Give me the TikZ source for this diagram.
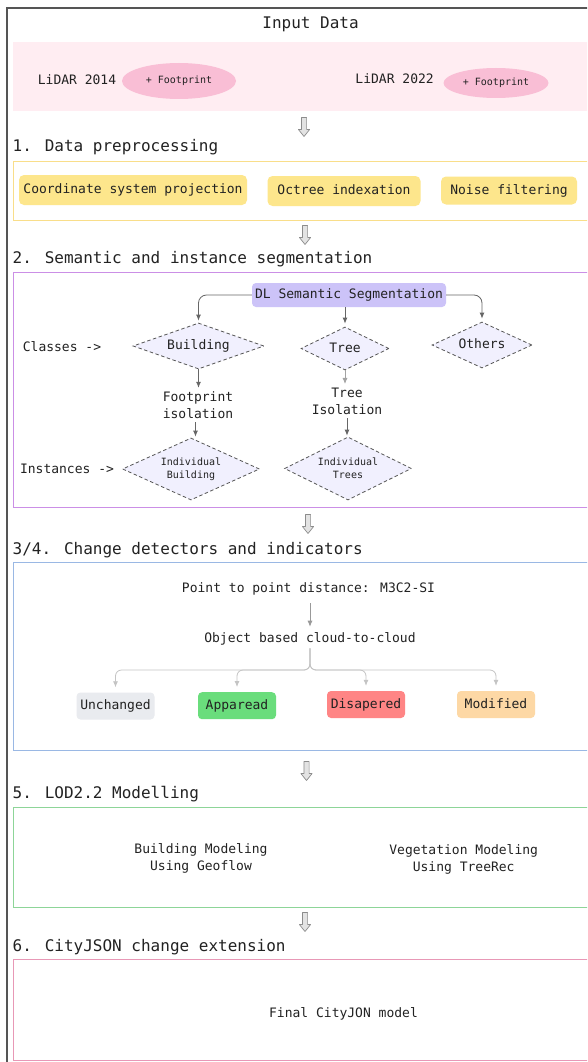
\documentclass[tikz,border=0pt]{standalone}
\usepackage{fontspec}
\setmainfont{DejaVu Sans Mono}
\usetikzlibrary{shapes.geometric,arrows.meta}

\definecolor{frameGray}{HTML}{555555}
\definecolor{inkText}{HTML}{222222}
\definecolor{bandPink}{HTML}{FFEDF2}
\definecolor{blobPink}{HTML}{F9BED5}
\definecolor{prepYellow}{HTML}{FDE68C}
\definecolor{prepLine}{HTML}{F9DE8A}
\definecolor{segLine}{HTML}{CB8FE6}
\definecolor{dlFill}{HTML}{CCC3F8}
\definecolor{diaFill}{HTML}{F1F0FE}
\definecolor{chgLine}{HTML}{9AB8E4}
\definecolor{unchFill}{HTML}{E9EBEF}
\definecolor{appFill}{HTML}{6ADD7C}
\definecolor{disFill}{HTML}{FF8585}
\definecolor{modFill}{HTML}{FDD8A5}
\definecolor{lodLine}{HTML}{8DD598}
\definecolor{cjLine}{HTML}{E898B6}
\definecolor{segArrow}{HTML}{666666}
\definecolor{branchLine}{HTML}{C4C4C4}

\tikzset{
  body/.style={font=\fontsize{13}{17}\selectfont, text=inkText},
  small/.style={font=\fontsize{10}{13}\selectfont, text=inkText},
  hdr/.style={font=\fontsize{16}{20}\selectfont, text=inkText, inner sep=0pt},
  oneline/.style={text height=9.5pt, text depth=2pt},
  secframe/.style={line width=1.3pt},
  prepbox/.style={body, oneline, fill=prepYellow, rounded corners=5pt, inner sep=0pt, minimum height=30pt},
  blob/.style={small, ellipse, fill=blobPink, inner sep=0pt},
  dlbox/.style={body, oneline, fill=dlFill, rounded corners=4pt, inner sep=0pt, minimum width=194pt, minimum height=24pt},
  dia/.style={diamond, draw=frameGray, dashed, dash pattern=on 3.5pt off 2.5pt, line width=0.8pt, fill=diaFill, inner sep=0pt},
  segarr/.style={draw=segArrow, line width=0.8pt, -{Latex[length=6pt,width=5pt]}, rounded corners=8pt},
  brarr/.style={draw=branchLine, line width=0.8pt, -{Latex[length=6pt,width=5pt]}, rounded corners=6pt},
  chgbox/.style={body, oneline, rounded corners=4pt, inner sep=0pt, minimum width=78pt, minimum height=27pt},
  % hollow block arrow pointing down, used between the stages
  hollowdown/.pic={
    \draw[draw=gray!90, fill=gray!22, line width=0.7pt, line join=round]
      (-2.6,-9.5) -- (2.6,-9.5) -- (2.6,2.5) -- (5.6,2.5) -- (0,9.5)
      -- (-5.6,2.5) -- (-2.6,2.5) -- cycle;
  },
}

\begin{document}
\begin{tikzpicture}[x=1pt,y=-1pt]
\clip (0,0) rectangle (587,1062);
\fill[white] (0,0) rectangle (587,1062);

% outer frame
\draw[frameGray, line width=1.8pt] (7,8) rectangle (640,1120);

% ---------- Input data ----------
\node[hdr, anchor=base] (title) at (310.6,29) {Input Data};
\fill[bandPink] (13,42) rectangle (640,111);
\node[body, oneline] (l14) at (77,81) {LiDAR 2014};
\node[blob, minimum width=114pt, minimum height=36pt] (fp1) at (179,81) {+ Footprint};
\node[body, oneline] (l22) at (394.6,80) {LiDAR 2022};
\node[blob, minimum width=105pt, minimum height=30pt] (fp2) at (496,83) {+ Footprint};

\coordinate (a1) at (304,127);
\pic at (a1) {hollowdown};

% ---------- 1. Data preprocessing ----------
\node[hdr, anchor=base west] (h1) at (12.5,151) {1. Data preprocessing};
\draw[prepLine, secframe] (13.5,161.5) rectangle (640,220.5);
\node[prepbox, minimum width=228pt] (b1) at (133,190) {Coordinate system projection};
\node[prepbox, minimum width=153pt] (b2) at (344,191) {Octree indexation};
\node[prepbox, minimum width=136pt, minimum height=28pt] (b3) at (509,190.5) {Noise filtering};

\coordinate (a2) at (305,235);
\pic at (a2) {hollowdown};

% ---------- 2. Semantic and instance segmentation ----------
\node[hdr, anchor=base west] (h2) at (12.5,263) {2. Semantic and instance segmentation};
\draw[segLine, secframe] (13.5,272.5) rectangle (640,507.5);

\node[dlbox] (dl) at (349,295) {DL Semantic Segmentation};

\node[body, oneline] (cls) at (62,348) {Classes ->};
\node[body, oneline] (ins) at (67,470) {Instances ->};

\node[dia, minimum width=131pt, minimum height=46pt] (bld) at (198.5,346) {};
\node[body, oneline] at (bld) {Building};
\node[dia, minimum width=88pt, minimum height=43pt] (tree) at (345,348.5) {};
\node[body, oneline] at (tree) {Tree};
\node[dia, minimum width=100pt, minimum height=46pt] (oth) at (482,345) {};
\node[body, oneline] at (oth) {Others};

\node[body, align=center, inner sep=1pt] (fpi) at (198,405.5) {Footprint\\isolation};
\node[body, align=center, inner sep=1pt] (tri) at (347,401.5) {Tree\\Isolation};

\node[dia, minimum width=137pt, minimum height=62pt] (ib) at (191,469) {};
\node[small, align=center] at (ib) {Individual\\Building};
\node[dia, minimum width=127pt, minimum height=63pt] (it) at (348,468.5) {};
\node[small, align=center] at (it) {Individual\\Trees};

\draw[segarr, shorten >=2pt] (dl.west) -| (bld.north);
\draw[segarr, shorten >=3pt] (dl.south -| tree.north) -- (tree.north);
\draw[segarr, shorten >=3pt] (dl.east) -| (oth.north);
\draw[segarr, shorten >=3pt] (bld.south) -- (bld.south |- fpi.north);
\draw[segarr, draw=segArrow!60, shorten >=3pt] (tree.south) -- (tree.south |- tri.north);
\draw[segarr, shorten <=2pt, shorten >=1pt] (fpi.south -| 195.5,0) -- (ib.north -| 195.5,0);
\draw[segarr, shorten <=2pt, shorten >=1pt] (tri.south) -- (tri.south |- it.north);

\coordinate (a3) at (308,524);
\pic at (a3) {hollowdown};

% ---------- 3/4. Change detectors and indicators ----------
\node[hdr, anchor=base west] (h3) at (12.5,554) {3/4. Change detectors and indicators};
\draw[chgLine, secframe] (13.5,562.5) rectangle (640,750.5);

\node[body, oneline] (p2p) at (308.5,589) {Point to point distance: M3C2-SI};
\node[body, oneline] (obj) at (310,639) {Object based cloud-to-cloud};
\draw[segarr, draw=gray!80, shorten <=5pt, shorten >=3pt] (p2p.south -| obj.north) -- (obj.north);

\node[chgbox, fill=unchFill] (unch) at (115.5,706) {Unchanged};
\node[chgbox, fill=appFill] (app) at (237,705.7) {Apparead};
\node[chgbox, fill=disFill] (dis) at (366,704.5) {Disapered};
\node[chgbox, fill=modFill] (mod) at (496,704.5) {Modified};

\coordinate (split) at (310,670);
\foreach \target in {unch,app,dis,mod}{
  \draw[brarr, shorten >=5pt] (obj.south) -- (split) -| (\target.north);
}

\coordinate (a4) at (306.5,771);
\pic at (a4) {hollowdown};

% ---------- 5. LOD2.2 Modelling ----------
\node[hdr, anchor=base west] (h5) at (12.5,798) {5. LOD2.2 Modelling};
\draw[lodLine, secframe] (13.5,807.5) rectangle (640,907.5);
\node[body, align=center] (bm) at (201,858) {Building Modeling\\Using Geoflow};
\node[body, align=center] (vm) at (463.7,859) {Vegetation Modeling\\Using TreeRec};

\coordinate (a5) at (305,922);
\pic at (a5) {hollowdown};

% ---------- 6. CityJSON change extension ----------
\node[hdr, anchor=base west] (h6) at (12.5,951) {6. CityJSON change extension};
\draw[cjLine, secframe] (13.5,959.5) rectangle (640,1060.5);
\node[body, oneline] (final) at (343.5,1014) {Final CityJON model};
\end{tikzpicture}
\end{document}
